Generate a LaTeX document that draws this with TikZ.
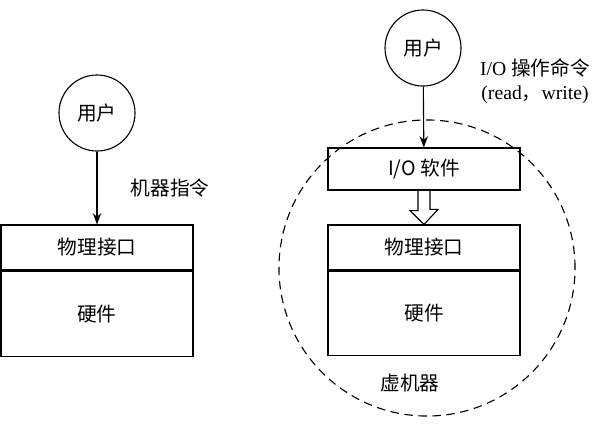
\documentclass[tikz,border=0pt]{standalone}
\usepackage{fontspec}
\setmainfont{Liberation Serif}
\newfontfamily\cjk{Noto Sans CJK SC}
\usetikzlibrary{positioning,arrows.meta}
\begin{document}
\begin{tikzpicture}[x=0.025cm,y=-0.025cm,font=\fontsize{14}{17}\selectfont,thick,
  user/.style={draw,circle,minimum size=1.9cm,inner sep=0pt,font=\cjk\fontsize{14}{17}\selectfont},
  part/.style={draw,minimum width=4.8cm,inner sep=0pt,font=\cjk\fontsize{14}{17}\selectfont},
  conn/.style={-{Stealth[length=8pt,width=6pt]}}]
  \useasboundingbox (0,0) rectangle (600,429);
  % left machine
  \node[user] (u1) at (97,113) {用户};
  \node[part,minimum height=1.125cm] (if1) at (97,247.5) {物理接口};
  \node[part,minimum height=2.125cm,below=0pt of if1] (hw1) {硬件};
  \draw[conn] (u1) -- (if1);
  \node[font=\cjk\fontsize{14}{17}\selectfont] (cmd1) at (170,188) {机器指令};
  % right machine
  \node[draw,dash pattern=on 6pt off 4pt,circle,minimum size=7.4cm] (vm) at (427,268) {};
  \node[user] (u2) at (423,48) {用户};
  \node[part,minimum height=1.05cm] (io) at (424,169) {I/O {\cjk 软件}};
  \node[part,minimum height=1.125cm] (if2) at (424,247.5) {物理接口};
  \node[part,minimum height=2.1cm,below=0pt of if2] (hw2) {硬件};
  \draw[conn] (u2) -- (io);
  \node[align=center] (cmd2) at (535,81) {I/O {\cjk 操作命令}\\(read{\cjk ，}write)};
  \draw (io.south) ++(-6,0) -- ++(0,20) -- ++(-8,0) -- (if2.north)
    -- ++(14,-15) -- ++(-8,0) -- ++(0,-20);
  \node[font=\cjk\fontsize{14}{17}\selectfont] (vml) at (410,383) {虚机器};
\end{tikzpicture}
\end{document}
